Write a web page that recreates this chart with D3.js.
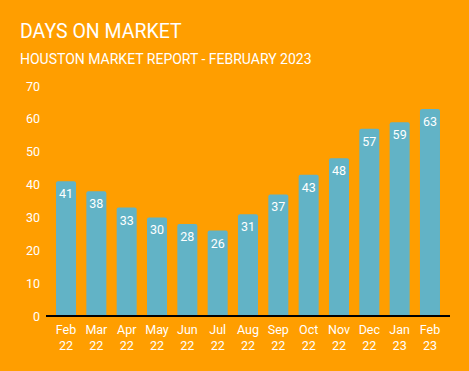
<!DOCTYPE html>
<html>
<head>
<meta charset="utf-8">
<script src="https://cdn.jsdelivr.net/npm/d3@7"></script>
<style>
  body { margin: 0; background: #ff9e00; }
  svg { display: block; font-family: Roboto, sans-serif; }
</style>
</head>
<body>
<svg id="chart"></svg>
<script>
// chart data
var months = ["Feb", "Mar", "Apr", "May", "Jun", "Jul", "Aug", "Sep", "Oct", "Nov", "Dec", "Jan", "Feb"];
var years = ["22", "22", "22", "22", "22", "22", "22", "22", "22", "22", "22", "23", "23"];
var days = [41, 38, 33, 30, 28, 26, 31, 37, 43, 48, 57, 59, 63];
var yTicks = [0, 10, 20, 30, 40, 50, 60, 70];

var dimensions = {
    width: 469,
    height: 371,
    margin: { top: 86, bottom: 55, left: 46, right: 19 }
};

var svg = d3.select("#chart")
    .attr("width", dimensions.width)
    .attr("height", dimensions.height);

svg.append("rect")
    .attr("width", dimensions.width)
    .attr("height", dimensions.height)
    .attr("fill", "#ff9e00");

// titles
svg.append("text")
    .attr("x", 20)
    .attr("y", 38)
    .attr("fill", "#fff")
    .style("font-size", "19.5px")
    .text("DAYS ON MARKET");

svg.append("text")
    .attr("x", 20)
    .attr("y", 63.5)
    .attr("fill", "#fff")
    .style("font-size", "14px")
    .text("HOUSTON MARKET REPORT - FEBRUARY 2023");

var keys = days.map((d, i) => i);

var xScale = d3.scaleBand()
    .domain(keys)
    .range([dimensions.margin.left, dimensions.width - dimensions.margin.right])
    .paddingInner(0.34)
    .paddingOuter(0.33);

var yScale = d3.scaleLinear()
    .domain([0, 70])
    .range([dimensions.height - dimensions.margin.bottom, dimensions.margin.top]);

// y axis labels, no line
var yAxis = svg.append("g")
    .attr("transform", `translate(${dimensions.margin.left}, 0)`)
    .call(d3.axisLeft(yScale).tickValues(yTicks).tickSize(0).tickPadding(6));
yAxis.select(".domain").remove();
yAxis.selectAll("text")
    .attr("fill", "#fff")
    .style("font-size", "12.5px")
    .style("font-family", "Roboto, sans-serif");

// bars with small rounded top corners
var r = 2;
svg.selectAll(".bar")
    .data(days)
    .enter()
    .append("path")
    .attr("class", "bar")
    .attr("fill", "#62b3c6")
    .attr("d", (d, i) => {
        var x0 = xScale(i), w = xScale.bandwidth();
        var y0 = yScale(d), y1 = yScale(0);
        return `M${x0},${y1}V${y0 + r}Q${x0},${y0} ${x0 + r},${y0}H${x0 + w - r}Q${x0 + w},${y0} ${x0 + w},${y0 + r}V${y1}Z`;
    });

// value labels inside bars
svg.selectAll(".val")
    .data(days)
    .enter()
    .append("text")
    .attr("class", "val")
    .attr("x", (d, i) => xScale(i) + xScale.bandwidth() / 2)
    .attr("y", d => yScale(d) + 17)
    .attr("text-anchor", "middle")
    .attr("fill", "#fff")
    .style("font-size", "12.5px")
    .text(d => d);

// x axis
var xAxis = svg.append("g")
    .attr("transform", `translate(0, ${yScale(0)})`)
    .call(d3.axisBottom(xScale).tickSize(0).tickFormat(""));
xAxis.select(".domain")
    .attr("stroke", "#000")
    .attr("stroke-width", 2)
    .attr("d", `M${dimensions.margin.left},0H${dimensions.width - dimensions.margin.right}`);

xAxis.selectAll(".tick text").remove();
xAxis.selectAll(".tick")
    .append("text")
    .attr("fill", "#fff")
    .attr("text-anchor", "middle")
    .style("font-size", "12.5px")
    .style("font-family", "Roboto, sans-serif")
    .each(function(d) {
        var t = d3.select(this);
        t.append("tspan").attr("x", 0).attr("y", 18).text(months[d]);
        t.append("tspan").attr("x", 0).attr("y", 33.5).text(years[d]);
    });
</script>
</body>
</html>
